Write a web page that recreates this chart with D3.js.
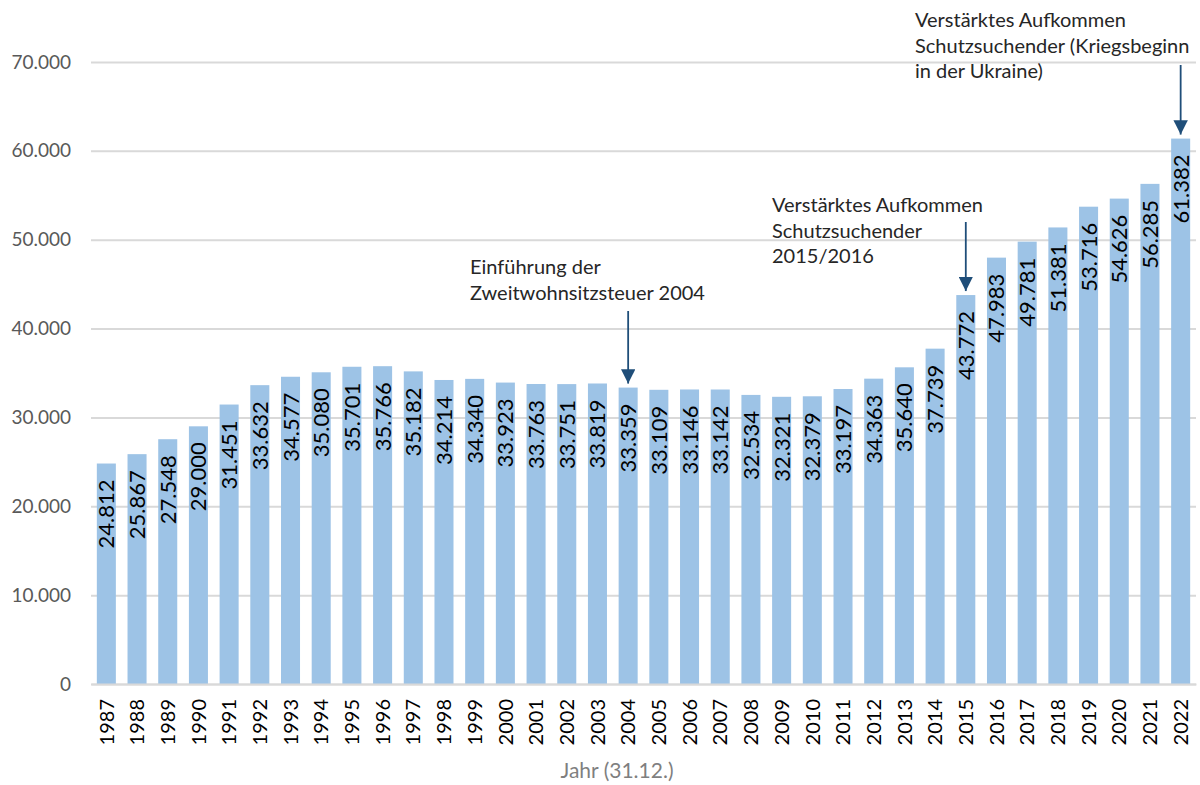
<!DOCTYPE html>
<html>
<head>
<meta charset="utf-8">
<script src="https://cdn.jsdelivr.net/npm/d3@7"></script>
<style>
  body { margin: 0; background: #fff; }
  text { font-family: Lato, "Open Sans", sans-serif; }
</style>
</head>
<body>
<div id="chart"></div>
<script>
var years = ["1987","1988","1989","1990","1991","1992","1993","1994","1995","1996",
  "1997","1998","1999","2000","2001","2002","2003","2004","2005","2006","2007","2008",
  "2009","2010","2011","2012","2013","2014","2015","2016","2017","2018","2019","2020",
  "2021","2022"];
var values = [24812,25867,27548,29000,31451,33632,34577,35080,35701,35766,
  35182,34214,34340,33923,33763,33751,33819,33359,33109,33146,33142,32534,
  32321,32379,33197,34363,35640,37739,43772,47983,49781,51381,53716,54626,
  56285,61382];
var yTicks = [0,10000,20000,30000,40000,50000,60000,70000];

var noteYears = ["2004","2015","2022"];
var noteLines = [
  ["Einführung der", "Zweitwohnsitzsteuer 2004"],
  ["Verstärktes Aufkommen", "Schutzsuchender", "2015/2016"],
  ["Verstärktes Aufkommen", "Schutzsuchender (Kriegsbeginn", "in der Ukraine)"]
];

var svgWidth = 1200;
var svgHeight = 785;

var margin = { top: 62, right: 4, bottom: 101, left: 91 };
var width = svgWidth - margin.left - margin.right;
var height = svgHeight - margin.top - margin.bottom;

var data = years.map(function(y, i) { return { year: y, value: values[i] }; });

var fmt = d3.formatLocale({ decimal: ",", thousands: ".", grouping: [3], currency: ["", "€"] }).format(",d");

var svg = d3.select("#chart")
  .append("svg")
  .attr("width", svgWidth)
  .attr("height", svgHeight);

var chartGroup = svg.append("g")
  .attr("transform", `translate(${margin.left},${margin.top})`);

var x = d3.scaleBand()
  .domain(years)
  .range([0, width])
  .paddingInner(0.38)
  .paddingOuter(0.19);

var y = d3.scaleLinear()
  .domain([0, 70000])
  .range([height, 0]);

// gridlines + y labels
var yAxis = d3.axisLeft(y)
  .tickValues(yTicks)
  .tickSize(-width)
  .tickFormat(fmt);

var yg = chartGroup.append("g").call(yAxis);
yg.select(".domain").remove();
yg.selectAll(".tick line").attr("stroke", "#d9d9d9").attr("stroke-width", 2);
yg.selectAll(".tick text")
  .attr("x", -20)
  .attr("fill", "#595959")
  .style("font-size", "19px");

// bars
chartGroup.append("g")
  .selectAll("rect")
  .data(data)
  .enter()
  .append("rect")
  .attr("x", d => x(d.year))
  .attr("y", d => y(d.value))
  .attr("width", x.bandwidth())
  .attr("height", d => height - y(d.value))
  .attr("fill", "#9dc3e6");

// value labels
chartGroup.append("g")
  .selectAll("text")
  .data(data)
  .enter()
  .append("text")
  .attr("transform", d => `translate(${x(d.year) + x.bandwidth() / 2 + 8},${y(d.value) + 16}) rotate(-90)`)
  .attr("text-anchor", "end")
  .attr("fill", "#000")
  .style("font-size", "22px")
  .text(d => fmt(d.value));

// x axis
var xAxis = d3.axisBottom(x).tickSize(0);
var xg = chartGroup.append("g")
  .attr("transform", `translate(0,${height})`)
  .call(xAxis);
xg.select(".domain").attr("stroke", "#d9d9d9").attr("stroke-width", 2);
xg.selectAll(".tick text")
  .attr("transform", "rotate(-90)")
  .attr("x", -15)
  .attr("y", 0)
  .attr("dy", "0.36em")
  .attr("text-anchor", "end")
  .attr("fill", "#000")
  .style("font-size", "20px");

svg.append("text")
  .attr("x", 617)
  .attr("y", 778)
  .attr("text-anchor", "middle")
  .attr("fill", "#7f7f7f")
  .style("font-size", "21px")
  .text("Jahr (31.12.)");

// annotations
var defs = svg.append("defs");
defs.append("marker")
  .attr("id", "arrow")
  .attr("viewBox", "0 0 10 10")
  .attr("refX", 10)
  .attr("refY", 5)
  .attr("markerWidth", 8)
  .attr("markerHeight", 8)
  .attr("markerUnits", "strokeWidth")
  .attr("orient", "auto")
  .append("path")
  .attr("d", "M0,0 L10,5 L0,10 Z")
  .attr("fill", "#1f4e79");

var noteTextX = [470, 772, 915];
var noteTextY = [274, 212, 27];
var arrowTop = [311, 222, 65];

noteYears.forEach(function(yr, i) {
  var v = values[years.indexOf(yr)];
  var cx = margin.left + x(yr) + x.bandwidth() / 2;
  svg.append("line")
    .attr("x1", cx).attr("x2", cx)
    .attr("y1", arrowTop[i])
    .attr("y2", margin.top + y(v) - 4)
    .attr("stroke", "#1f4e79")
    .attr("stroke-width", 1.8)
    .attr("marker-end", "url(#arrow)");

  var t = svg.append("text")
    .attr("x", noteTextX[i])
    .attr("y", noteTextY[i])
    .attr("fill", "#262626")
    .style("font-size", "20px");
  noteLines[i].forEach(function(line, j) {
    t.append("tspan")
      .attr("x", noteTextX[i])
      .attr("dy", j === 0 ? 0 : 25.5)
      .text(line);
  });
});
</script>
</body>
</html>
